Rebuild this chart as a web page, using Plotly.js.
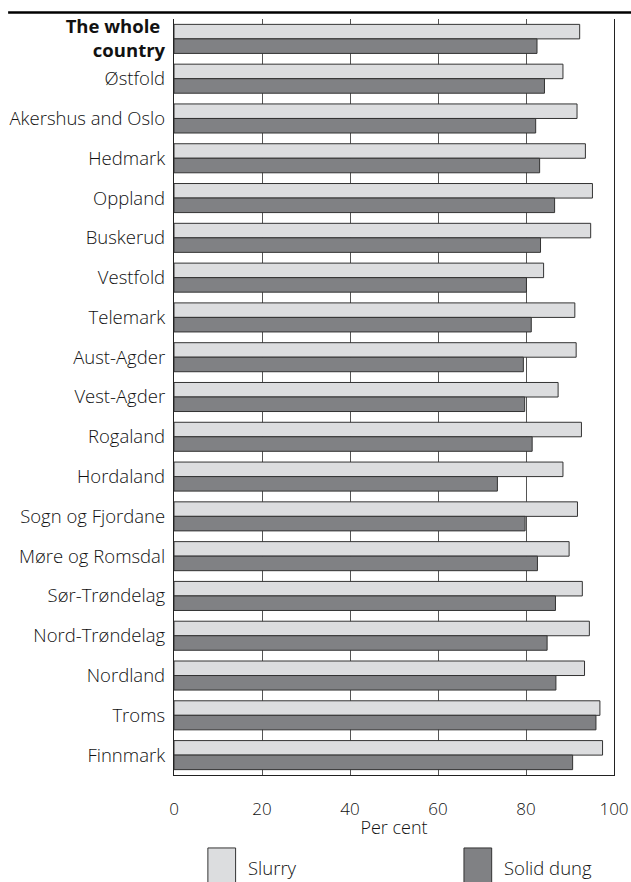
<!DOCTYPE html>
<html>
<head>
<meta charset="utf-8">
<script src="https://cdn.plot.ly/plotly-3.0.1.min.js"></script>
<style>html,body{margin:0;padding:0;background:#fff;}#chart{width:631px;height:882px;}</style>
</head>
<body>
<div id="chart"></div>
<script>
const categories = ["<b>The whole <br>country</b>", "Østfold", "Akershus and Oslo", "Hedmark", "Oppland", "Buskerud", "Vestfold", "Telemark", "Aust-Agder", "Vest-Agder", "Rogaland", "Hordaland", "Sogn og Fjordane", "Møre og Romsdal", "Sør-Trøndelag", "Nord-Trøndelag", "Nordland", "Troms", "Finnmark"];
const slurry = [92.2, 88.4, 91.6, 93.5, 95.1, 94.7, 84.0, 91.1, 91.4, 87.3, 92.6, 88.4, 91.7, 89.8, 92.8, 94.4, 93.3, 96.8, 97.4];
const solidDung = [82.5, 84.2, 82.2, 83.1, 86.5, 83.3, 80.1, 81.2, 79.4, 79.7, 81.4, 73.5, 79.8, 82.6, 86.7, 84.8, 86.8, 95.9, 90.6];
const seriesNames = ["Slurry", "Solid dung"];
const xTicks = [0, 20, 40, 60, 80, 100];

const colors = ["#dcdddf", "#808184"];
const font = "Open Sans, Liberation Sans, sans-serif";
const txt = "#111";

const data = [
  {type: "bar", orientation: "h", y: categories, x: slurry, name: seriesNames[0],
   marker: {color: colors[0], line: {color: "#333", width: 1}}, showlegend: false, hoverinfo: "skip"},
  {type: "bar", orientation: "h", y: categories, x: solidDung, name: seriesNames[1],
   marker: {color: colors[1], line: {color: "#333", width: 1}}, showlegend: false, hoverinfo: "skip"}
];

const shapes = [
  {type: "line", xref: "paper", yref: "paper", x0: -0.377, x1: 1.04, y0: 1.0085, y1: 1.0085,
   line: {color: "#000", width: 2.5}}
];
const annotations = [];
const legendX = [0.077, 0.659];
seriesNames.forEach((n, i) => {
  shapes.push({type: "rect", xref: "paper", yref: "paper", x0: legendX[i], x1: legendX[i] + 0.063,
    y0: -0.15, y1: -0.0965, fillcolor: colors[i], line: {color: "#333", width: 1}});
  annotations.push({xref: "paper", yref: "paper", x: legendX[i] + 0.087, y: -0.1225, text: n,
    showarrow: false, xanchor: "left", yanchor: "middle", font: {family: font, size: 18.5, color: txt, weight: 300}});
});

const layout = {
  width: 631, height: 882,
  margin: {l: 174, r: 17, t: 19, b: 107},
  paper_bgcolor: "#fff", plot_bgcolor: "#fff",
  barmode: "group", bargap: 0.27, bargroupgap: 0,
  font: {family: font, size: 18.5, color: txt, weight: 300},
  xaxis: {range: [0, 100], tickvals: xTicks, ticktext: xTicks.map(String),
    showgrid: true, gridcolor: "#555", gridwidth: 1, zeroline: false,
    showline: true, linecolor: "#222", linewidth: 1.2, mirror: false,
    ticks: "outside", ticklen: 18, tickcolor: "rgba(0,0,0,0)",
    tickfont: {family: font, size: 17, color: txt, weight: 300},
    title: {text: "Per cent", font: {family: font, size: 18, color: txt, weight: 300}, standoff: 2}},
  yaxis: {autorange: "reversed", showgrid: false, zeroline: false,
    showline: true, linecolor: "#222", linewidth: 1.2, mirror: true,
    ticks: "outside", ticklen: 4, tickcolor: "rgba(0,0,0,0)",
    tickfont: {family: font, size: 18.5, color: txt, weight: 300}},
  shapes: shapes,
  annotations: annotations
};

Plotly.newPlot("chart", data, layout, {displayModeBar: false, staticPlot: true});
</script>
</body>
</html>
